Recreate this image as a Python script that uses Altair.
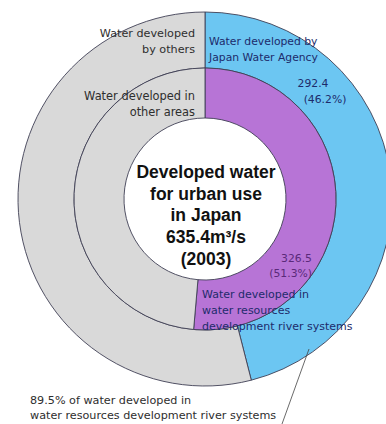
import altair as alt
import pandas as pd

# Outer ring: water developed for urban use by developer
outer_labels = ["Water developed by Japan Water Agency", "Water developed by others"]
outer_values = [292.4, 343.0]
# Inner ring: water developed by river system type
inner_labels = ["Water developed in water resources development river systems",
                "Water developed in other areas"]
inner_values = [326.5, 308.9]

outer_colors = ["#6cc6f2", "#d9d9d9"]
inner_colors = ["#b774d6", "#d9d9d9"]

outer_df = pd.DataFrame({"label": outer_labels, "value": outer_values, "idx": [0, 1], "col": outer_colors})
inner_df = pd.DataFrame({"label": inner_labels, "value": inner_values, "idx": [0, 1], "col": inner_colors})

CX, CY = 205, 199
R_OUT, R_MID, R_IN = 187, 131, 81
FONT = "DejaVu Sans"
TITLE_FONT = "Liberation Sans"

def ring(df, r1, r2):
    return alt.Chart(df).mark_arc(stroke="#3f3f55", strokeWidth=0.9).encode(
        theta=alt.Theta("value:Q", stack=True),
        order=alt.Order("idx:Q"),
        color=alt.Color("col:N", scale=None),
        x=alt.value(CX), y=alt.value(CY),
        radius=alt.value(r1), radius2=alt.value(r2),
    )

outer = ring(outer_df, R_OUT, R_MID)
inner = ring(inner_df, R_MID, R_IN)

base = alt.Chart(pd.DataFrame({"a": [0]}))

def txt(lines, x, y, align="left", color="#2b2b2b", size=10.5, weight="normal", lh=16, font=FONT):
    return base.mark_text(align=align, baseline="middle", font=font, fontSize=size,
                          fontWeight=weight, color=color, lineHeight=lh).encode(
        x=alt.value(x), y=alt.value(y), text=alt.value(lines))

navy = "#1d2b6b"
purple_txt = "#5a2a7a"
gray_txt = "#2e2e2e"
texts = [
    txt(["Water developed", "by others"], 195, 34, align="right", color=gray_txt, size=11.2),
    txt(["Water developed by", "Japan Water Agency"], 209, 42, color=navy, size=10.8),
    txt("292.4", 313, 84, align="center", color=navy, size=10.8),
    txt("(46.2%)", 325, 100, align="center", color=navy, size=10.8),
    txt(["Water developed in", "other areas"], 195, 97, align="right", color=gray_txt, size=11.4),
    txt(["Developed water", "for urban use", "in Japan", "635.4m³/s", "(2003)"], 206, 173,
        align="center", color="#111111", size=17.5, weight="bold", lh=21.7, font=TITLE_FONT),
    txt("326.5", 312, 259, align="right", color=purple_txt, size=10.8),
    txt("(51.3%)", 312, 274, align="right", color=purple_txt, size=10.8),
    txt(["Water developed in", "water resources", "development river systems"], 202, 295,
        color=navy, size=11, lh=16),
    txt(["89.5% of water developed in", "water resources development river systems"], 30, 401,
        color=gray_txt, size=11.2, lh=15),
]

leader = base.mark_rule(color="#444444", strokeWidth=0.8).encode(
    x=alt.value(282), y=alt.value(424), x2=alt.value(309), y2=alt.value(349))

chart = alt.layer(outer, inner, *texts, leader).resolve_scale(theta="independent").properties(
    width=386, height=424, padding=0, autosize="none", background="white"
).configure_view(stroke=None)

chart.save("out.html", embed_options={"renderer": "svg", "actions": False})
